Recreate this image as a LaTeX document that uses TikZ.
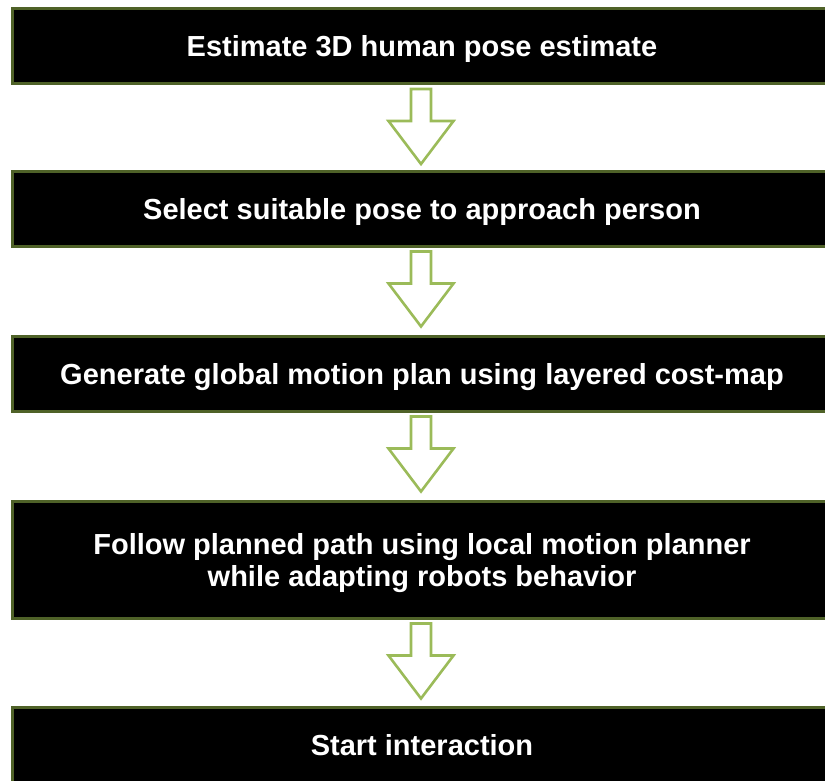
\documentclass[tikz,border=0pt]{standalone}
\usepackage{fontspec}
\setmainfont{Liberation Sans}
\usetikzlibrary{calc}
\definecolor{boxgreen}{RGB}{79,98,40}
\definecolor{arrgreen}{RGB}{155,187,89}

\begin{document}
\begin{tikzpicture}[x=1pt, y=1pt,
    box/.style={rectangle, draw=boxgreen, fill=black, line width=3pt,
                minimum width=820, text=white, align=center, text depth=0pt,
                font=\fontsize{29}{32}\selectfont\bfseries, inner sep=0pt},
    blockarr/.style={draw=arrgreen, fill=white, line width=2.6pt, line join=miter}]
    \useasboundingbox (0,0) rectangle (825,-780);
    \clip (0,0) rectangle (825,-780);
    \node[box, minimum height=75] (pose) at (422,-46) {Estimate 3D human pose estimate};
    \node[box, minimum height=75] (select) at (422,-208.5) {Select suitable pose to approach person};
    \node[box, minimum height=75] (plan) at (422,-373.5) {Generate global motion plan using layered cost-map};
    \node[box, minimum height=117] (follow) at (422,-559.5) {Follow planned path using local motion planner\\while adapting robots behavior};
    \node[box, minimum height=75] (start) at (422,-745) {Start interaction};
    % block arrows between the steps
    \foreach \a in {pose,select,plan,follow}{
        \draw[blockarr] let \p1=(\a.south) in
            (\x1-11pt,\y1-4pt) -- (\x1+9pt,\y1-4pt) -- (\x1+9pt,\y1-36pt)
            -- (\x1+31.5pt,\y1-36pt) -- (\x1-1pt,\y1-79pt) -- (\x1-33.5pt,\y1-36pt)
            -- (\x1-11pt,\y1-36pt) -- cycle;
    }
\end{tikzpicture}
\end{document}
